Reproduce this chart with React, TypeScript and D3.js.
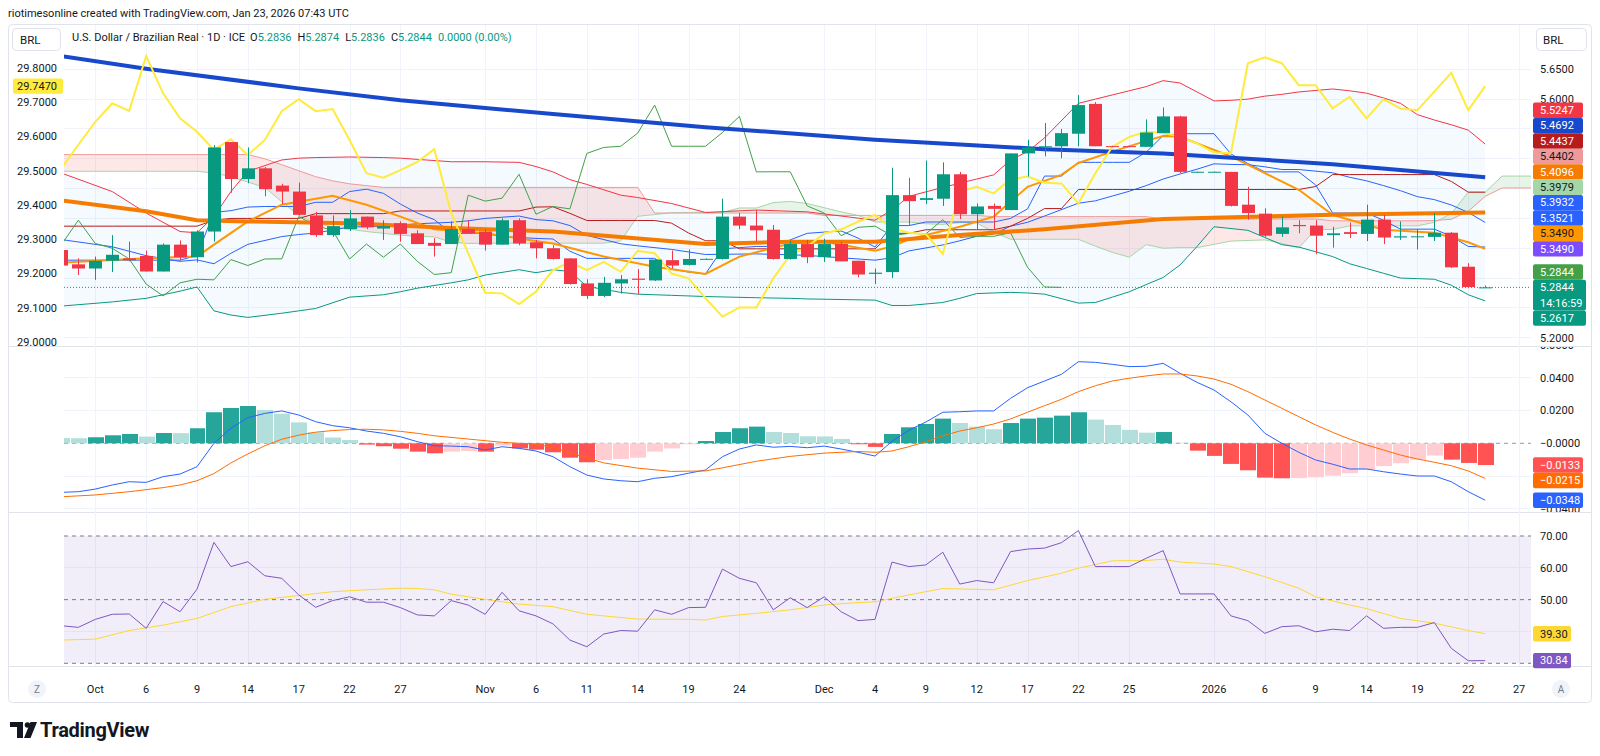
import React from "react";
import * as d3 from "d3";

// trading calendar (weekdays) from Sep 29 2025, incl. 3 future days for the cloud
const TRADING_DAYS = d3.timeDay
  .range(new Date(2025, 8, 29), new Date(2026, 0, 29))
  .filter((d) => d.getDay() !== 0 && d.getDay() !== 6);
const dayKey = d3.timeFormat("%Y-%m-%d");

const TICKS: [string, string][] = [
  ["2025-10-01", "Oct"], ["2025-10-06", "6"], ["2025-10-09", "9"], ["2025-10-14", "14"],
  ["2025-10-17", "17"], ["2025-10-22", "22"], ["2025-10-27", "27"], ["2025-11-03", "Nov"],
  ["2025-11-06", "6"], ["2025-11-11", "11"], ["2025-11-14", "14"], ["2025-11-19", "19"],
  ["2025-11-24", "24"], ["2025-12-01", "Dec"], ["2025-12-04", "4"], ["2025-12-09", "9"],
  ["2025-12-12", "12"], ["2025-12-17", "17"], ["2025-12-22", "22"], ["2025-12-25", "25"],
  ["2026-01-01", "2026"], ["2026-01-06", "6"], ["2026-01-09", "9"], ["2026-01-14", "14"],
  ["2026-01-19", "19"], ["2026-01-22", "22"], ["2026-01-27", "27"],
];

// USD/BRL daily candles
const OPEN = [
  5.347, 5.323, 5.316, 5.329, 5.333, 5.337, 5.311, 5.356, 5.335, 5.378,
  5.528, 5.466, 5.484, 5.455, 5.445, 5.405, 5.372, 5.382, 5.403, 5.383,
  5.392, 5.375, 5.359, 5.357, 5.382, 5.378, 5.356, 5.397, 5.36, 5.35,
  5.333, 5.291, 5.27, 5.291, 5.299, 5.296, 5.33, 5.322, 5.3318, 5.332,
  5.403, 5.388, 5.381, 5.332, 5.357, 5.335, 5.357, 5.329, 5.307, 5.31,
  5.439, 5.431, 5.433, 5.474, 5.407, 5.421, 5.414, 5.509, 5.519, 5.521,
  5.542, 5.592, 5.5212, 5.5212, 5.52, 5.543, 5.571, 5.478, 5.478, 5.478,
  5.423, 5.408, 5.374, 5.389, 5.388, 5.372, 5.377, 5.374, 5.398, 5.368,
  5.369, 5.369, 5.376, 5.319, 5.2836,
];
const HIGH = [
  5.35, 5.333, 5.336, 5.372, 5.361, 5.346, 5.358, 5.363, 5.38, 5.523,
  5.528, 5.519, 5.486, 5.458, 5.46, 5.411, 5.405, 5.414, 5.403, 5.397,
  5.395, 5.38, 5.367, 5.395, 5.397, 5.382, 5.4, 5.4, 5.364, 5.355,
  5.333, 5.298, 5.302, 5.305, 5.315, 5.332, 5.346, 5.348, 5.333, 5.433,
  5.409, 5.414, 5.389, 5.362, 5.364, 5.366, 5.361, 5.329, 5.316, 5.485,
  5.468, 5.497, 5.494, 5.478, 5.425, 5.425, 5.509, 5.532, 5.56, 5.55,
  5.607, 5.595, 5.5218, 5.5218, 5.566, 5.586, 5.572, 5.4786, 5.4786, 5.478,
  5.453, 5.417, 5.403, 5.397, 5.397, 5.386, 5.393, 5.423, 5.406, 5.395,
  5.382, 5.409, 5.377, 5.325, 5.2874,
];
const LOW = [
  5.317, 5.305, 5.297, 5.31, 5.328, 5.311, 5.311, 5.33, 5.326, 5.361,
  5.443, 5.459, 5.437, 5.424, 5.405, 5.369, 5.369, 5.379, 5.382, 5.364,
  5.361, 5.357, 5.336, 5.357, 5.375, 5.346, 5.356, 5.355, 5.333, 5.331,
  5.289, 5.265, 5.268, 5.274, 5.273, 5.295, 5.316, 5.321, 5.3312, 5.331,
  5.382, 5.361, 5.331, 5.331, 5.325, 5.327, 5.328, 5.301, 5.29, 5.3,
  5.389, 5.424, 5.421, 5.399, 5.381, 5.381, 5.414, 5.47, 5.504, 5.501,
  5.521, 5.521, 5.5205, 5.5205, 5.52, 5.543, 5.476, 5.4776, 5.4776, 5.42,
  5.398, 5.369, 5.369, 5.375, 5.34, 5.351, 5.367, 5.362, 5.357, 5.364,
  5.348, 5.362, 5.317, 5.283, 5.2836,
];
const CLOSE = [
  5.321, 5.316, 5.329, 5.339, 5.33, 5.311, 5.356, 5.335, 5.378, 5.519,
  5.466, 5.484, 5.449, 5.445, 5.406, 5.372, 5.387, 5.4, 5.385, 5.387,
  5.374, 5.357, 5.354, 5.382, 5.375, 5.356, 5.397, 5.358, 5.35, 5.332,
  5.29, 5.27, 5.292, 5.298, 5.297, 5.331, 5.321, 5.332, 5.3322, 5.403,
  5.388, 5.38, 5.332, 5.357, 5.335, 5.357, 5.328, 5.306, 5.309, 5.439,
  5.429, 5.434, 5.474, 5.407, 5.42, 5.416, 5.509, 5.519, 5.521, 5.543,
  5.59, 5.521, 5.521, 5.521, 5.544, 5.571, 5.478, 5.4782, 5.4782, 5.421,
  5.409, 5.371, 5.385, 5.387, 5.371, 5.375, 5.374, 5.398, 5.368, 5.37,
  5.37, 5.376, 5.318, 5.285, 5.2844,
];

// moving averages [bar index, value]
const MA_LONG: [number, number][] = [
  [0, 5.672], [5, 5.651], [14, 5.618], [20, 5.598], [29, 5.575], [38, 5.553],
  [48, 5.532], [58, 5.516], [65, 5.509], [75, 5.491], [84, 5.469],
];
const MA_MID: [number, number][] = [
  [0, 5.43], [5, 5.412], [8, 5.397], [11, 5.395], [17, 5.392], [23, 5.384], [29, 5.378],
  [38, 5.357], [43, 5.361], [48, 5.361], [53, 5.372], [56, 5.378], [58, 5.382],
  [65, 5.399], [75, 5.406], [84, 5.41],
];
const MA_FAST: [number, number][] = [
  [0, 5.326], [5, 5.333], [8, 5.336], [9, 5.356], [11, 5.395], [13, 5.423], [16, 5.438],
  [18, 5.423], [20, 5.403], [22, 5.382], [25, 5.375], [28, 5.362], [29, 5.358], [32, 5.336],
  [35, 5.319], [38, 5.307], [40, 5.336], [43, 5.358], [45, 5.361], [48, 5.346], [49, 5.353],
  [50, 5.365], [53, 5.386], [55, 5.403], [57, 5.453], [59, 5.473], [60, 5.493], [62, 5.512],
  [64, 5.53], [65, 5.538], [66, 5.537], [69, 5.504], [73, 5.448], [75, 5.406], [78, 5.381],
  [81, 5.376], [83, 5.36], [84, 5.349],
];

// Bollinger bands [bar index, upper, lower]
const BB_ROWS: [number, number, number][] = [
  [0, 5.476, 5.253], [3, 5.445, 5.26], [5, 5.409, 5.266], [7, 5.378, 5.278], [8, 5.376, 5.285],
  [9, 5.403, 5.245], [10, 5.445, 5.238], [11, 5.479, 5.234], [13, 5.498, 5.241], [14, 5.501, 5.245],
  [15, 5.502, 5.249], [17, 5.503, 5.268], [19, 5.502, 5.272], [20, 5.501, 5.277], [21, 5.499, 5.283],
  [23, 5.495, 5.292], [24, 5.495, 5.297], [25, 5.495, 5.305], [27, 5.494, 5.314], [28, 5.487, 5.309],
  [29, 5.478, 5.314], [30, 5.465, 5.311], [31, 5.457, 5.286], [33, 5.439, 5.276], [34, 5.435, 5.273],
  [36, 5.425, 5.271], [38, 5.41, 5.269], [41, 5.414, 5.267], [43, 5.412, 5.266], [44, 5.411, 5.265],
  [48, 5.397, 5.263], [49, 5.414, 5.254], [50, 5.437, 5.254], [52, 5.452, 5.259], [53, 5.459, 5.266],
  [54, 5.466, 5.274], [55, 5.473, 5.275], [56, 5.498, 5.276], [57, 5.512, 5.275], [58, 5.535, 5.273],
  [60, 5.593, 5.258], [61, 5.6, 5.259], [62, 5.607, 5.268], [63, 5.614, 5.277], [64, 5.621, 5.289],
  [65, 5.631, 5.301], [66, 5.627, 5.322], [67, 5.612, 5.353], [68, 5.597, 5.386], [69, 5.598, 5.383],
  [70, 5.6, 5.38], [71, 5.605, 5.368], [72, 5.608, 5.356], [73, 5.612, 5.352], [75, 5.617, 5.336],
  [76, 5.614, 5.324], [77, 5.61, 5.316], [78, 5.602, 5.308], [79, 5.593, 5.3], [80, 5.574, 5.299],
  [81, 5.565, 5.298], [82, 5.557, 5.288], [83, 5.548, 5.272], [84, 5.5247, 5.2617],
];

// Ichimoku
const TENKAN = [
  5.33, 5.33, 5.33, 5.33, 5.33, 5.33, 5.33, 5.33, 5.338, 5.41,
  5.413, 5.419, 5.42, 5.42, 5.42, 5.427, 5.427, 5.445, 5.449, 5.442,
  5.424, 5.409, 5.398, 5.375, 5.375, 5.375, 5.3695, 5.368, 5.3665, 5.3655,
  5.345, 5.333, 5.333, 5.333, 5.333, 5.333, 5.315, 5.31, 5.307, 5.349,
  5.351, 5.353, 5.353, 5.364, 5.375, 5.377, 5.379, 5.367, 5.352, 5.388,
  5.388, 5.394, 5.394, 5.394, 5.394, 5.394, 5.4, 5.416, 5.471, 5.471,
  5.494, 5.494, 5.494, 5.494, 5.511, 5.539, 5.542, 5.542, 5.542, 5.508,
  5.492, 5.478, 5.478, 5.478, 5.456, 5.409, 5.409, 5.409, 5.397, 5.382,
  5.382, 5.382, 5.37, 5.353, 5.352,
];
const KIJUN = [
  5.387, 5.387, 5.387, 5.387, 5.387, 5.387, 5.387, 5.387, 5.387, 5.397,
  5.4, 5.4, 5.4, 5.4, 5.4, 5.408, 5.408, 5.408, 5.408, 5.408,
  5.4125, 5.4125, 5.4125, 5.4125, 5.4125, 5.4125, 5.4125, 5.4125, 5.419, 5.4195,
  5.4085, 5.3965, 5.3965, 5.3965, 5.3965, 5.3965, 5.392, 5.3755, 5.3625, 5.3625,
  5.349, 5.349, 5.349, 5.349, 5.349, 5.349, 5.349, 5.349, 5.349, 5.375,
  5.375, 5.381, 5.381, 5.381, 5.381, 5.381, 5.387, 5.4, 5.4165, 5.4165,
  5.4485, 5.4485, 5.4485, 5.4485, 5.4485, 5.4485, 5.4485, 5.4485, 5.4485, 5.4485,
  5.4485, 5.4485, 5.4485, 5.4485, 5.4535, 5.4735, 5.4735, 5.4735, 5.4735, 5.4735,
  5.4735, 5.4735, 5.462, 5.444, 5.444,
];
const SPAN_A = [
  5.479, 5.479, 5.479, 5.479, 5.479, 5.479, 5.479, 5.479, 5.479, 5.476,
  5.47, 5.461, 5.452, 5.428, 5.405, 5.392, 5.386, 5.382, 5.378, 5.375,
  5.372, 5.37, 5.369, 5.36, 5.358, 5.3585, 5.3585, 5.3585, 5.3585, 5.3585,
  5.3585, 5.3585, 5.3585, 5.3625, 5.4035, 5.4065, 5.4095, 5.41, 5.41, 5.41,
  5.4175, 5.4175, 5.4265, 5.4285, 5.425, 5.418, 5.411, 5.405, 5.394, 5.394,
  5.394, 5.391, 5.39, 5.393, 5.3925, 5.377, 5.365, 5.365, 5.365, 5.365,
  5.365, 5.3535, 5.343, 5.335, 5.356, 5.35, 5.351, 5.351, 5.3565, 5.362,
  5.363, 5.364, 5.358, 5.3505, 5.3815, 5.3815, 5.3875, 5.3875, 5.3875, 5.3875,
  5.3875, 5.3935, 5.408, 5.444, 5.444, 5.471, 5.471, 5.471,
];
const SPAN_B = [
  5.507, 5.507, 5.507, 5.507, 5.507, 5.507, 5.507, 5.507, 5.507, 5.507,
  5.507, 5.507, 5.5, 5.49, 5.48, 5.47, 5.463, 5.458, 5.455, 5.452,
  5.452, 5.452, 5.452, 5.452, 5.452, 5.452, 5.452, 5.452, 5.452, 5.452,
  5.452, 5.452, 5.452, 5.452, 5.452, 5.409, 5.409, 5.409, 5.409, 5.409,
  5.409, 5.409, 5.409, 5.409, 5.409, 5.405, 5.405, 5.405, 5.405, 5.405,
  5.405, 5.405, 5.405, 5.405, 5.405, 5.403, 5.403, 5.403, 5.403, 5.403,
  5.403, 5.403, 5.403, 5.403, 5.403, 5.399, 5.399, 5.399, 5.399, 5.399,
  5.399, 5.399, 5.399, 5.399, 5.399, 5.396, 5.396, 5.396, 5.396, 5.396,
  5.396, 5.3965, 5.3985, 5.412, 5.437, 5.451, 5.451, 5.451,
];
const LAG_SHIFT = 25;

// overlay on the left scale
const LEFT_SCALE_LINE = [
  29.507, 29.576, 29.643, 29.697, 29.675, 29.835, 29.726, 29.653, 29.614, 29.561,
  29.592, 29.546, 29.59, 29.674, 29.709, 29.674, 29.68, 29.59, 29.493, 29.48,
  29.502, 29.526, 29.563, 29.376, 29.259, 29.144, 29.142, 29.111, 29.147, 29.21,
  29.234, 29.21, 29.234, 29.205, 29.266, 29.259, 29.2, 29.186, 29.128, 29.074,
  29.101, 29.101, 29.186, 29.254, 29.278, 29.317, 29.329, 29.351, 29.371, 29.332,
  29.319, 29.315, 29.257, 29.439, 29.453, 29.434, 29.475, 29.483, 29.465, 29.463,
  29.405, 29.493, 29.57, 29.599, 29.614, 29.611, 29.599, 29.58, 29.553, 29.551,
  29.814, 29.831, 29.814, 29.75, 29.75, 29.682, 29.716, 29.653, 29.709, 29.682,
  29.677, 29.731, 29.786, 29.677, 29.747,
];

// MACD
const MACD_LINE = [
  -0.03, -0.0296, -0.028, -0.0255, -0.0235, -0.0239, -0.0204, -0.0188, -0.0143, 0.0,
  0.0092, 0.0157, 0.0183, 0.0198, 0.0173, 0.0132, 0.0108, 0.0095, 0.0075, 0.0061,
  0.004, 0.001, -0.0015, -0.0017, -0.0021, -0.0041, -0.0021, -0.0031, -0.0047, -0.0082,
  -0.0143, -0.0194, -0.0218, -0.0229, -0.0235, -0.0214, -0.0204, -0.0183, -0.0163, -0.0082,
  -0.0035, -0.001, -0.0024, -0.0019, -0.0027, -0.0017, -0.0035, -0.0055, -0.0078, 0.0012,
  0.008, 0.013, 0.019, 0.0193, 0.0198, 0.0198, 0.0275, 0.034, 0.0381, 0.0422,
  0.0499, 0.0495, 0.0483, 0.0469, 0.0471, 0.0489, 0.0428, 0.0373, 0.0326, 0.0254,
  0.0173, 0.0061, 0.0, -0.0055, -0.0102, -0.0128, -0.0157, -0.0157, -0.0174, -0.0188,
  -0.02, -0.02, -0.0235, -0.0296, -0.0348,
];
const MACD_SIGNAL: [number, number][] = [
  [0, -0.0327], [2, -0.0316], [4, -0.0296], [6, -0.0271], [7, -0.0255], [8, -0.0229], [9, -0.0185],
  [10, -0.012], [11, -0.0065], [12, -0.0015], [13, 0.0025], [14, 0.005], [15, 0.0068], [16, 0.0078],
  [17, 0.0084], [18, 0.0086], [19, 0.0082], [20, 0.0073], [21, 0.0061], [22, 0.0046], [24, 0.0026],
  [26, 0.0006], [28, -0.0006], [29, -0.0025], [30, -0.0058], [31, -0.009], [32, -0.012], [34, -0.0152],
  [36, -0.0172], [38, -0.0169], [39, -0.015], [41, -0.011], [43, -0.008], [45, -0.006], [47, -0.005],
  [48, -0.0055], [49, -0.0047], [50, -0.0021], [51, 0.001], [52, 0.0046], [53, 0.0075], [54, 0.0095],
  [55, 0.0118], [56, 0.0149], [57, 0.019], [58, 0.023], [59, 0.0269], [60, 0.0316], [61, 0.0352],
  [62, 0.0381], [63, 0.0398], [64, 0.0412], [65, 0.0424], [66, 0.0424], [67, 0.0412], [68, 0.0393],
  [69, 0.0361], [70, 0.0316], [71, 0.0265], [72, 0.0214], [73, 0.0163], [74, 0.0112], [75, 0.0067],
  [76, 0.0026], [77, -0.001], [78, -0.0041], [79, -0.0072], [80, -0.0096], [81, -0.0116],
  [82, -0.0137], [83, -0.0169], [84, -0.0215],
];
const MACD_HIST = [
  0.0032, 0.0031, 0.0037, 0.0049, 0.0057, 0.0041, 0.0063, 0.0062, 0.0092, 0.019,
  0.0216, 0.0228, 0.0204, 0.0181, 0.0128, 0.0067, 0.0035, 0.002, -0.0008, -0.0018,
  -0.0033, -0.0051, -0.0061, -0.0051, -0.0047, -0.0051, -0.0014, -0.0031, -0.0039, -0.0055,
  -0.0088, -0.0116, -0.0102, -0.0096, -0.0088, -0.0051, -0.0031, -0.0006, 0.0014, 0.0069,
  0.0092, 0.0102, 0.0069, 0.0063, 0.0043, 0.0042, 0.0027, -0.0006, -0.0022, 0.0057,
  0.0098, 0.0118, 0.0151, 0.0124, 0.0102, 0.0086, 0.0124, 0.0151, 0.0157, 0.0169,
  0.019, 0.0145, 0.0112, 0.0082, 0.0065, 0.0069, 0.0003, -0.0045, -0.0077, -0.0126,
  -0.0165, -0.021, -0.0214, -0.0213, -0.0208, -0.0198, -0.0183, -0.016, -0.014, -0.0122,
  -0.01, -0.0075, -0.01, -0.012, -0.0133,
];

// RSI
const RSI = [
  41.8, 41.3, 43.8, 45.4, 45.5, 41.0, 49.4, 46.2, 53.3, 68.0,
  60.4, 61.9, 57.5, 56.7, 51.5, 47.6, 49.7, 50.9, 49.2, 49.2,
  47.5, 45.2, 44.9, 49.7, 48.3, 45.4, 52.3, 46.5, 44.9, 42.4,
  37.3, 35.2, 39.2, 40.3, 40.1, 46.8, 45.4, 47.5, 47.6, 59.6,
  56.7, 55.3, 46.8, 50.6, 47.5, 50.9, 46.2, 43.4, 43.8, 61.8,
  60.4, 60.9, 64.9, 54.9, 56.0, 55.3, 65.1, 65.9, 66.2, 67.9,
  71.7, 60.4, 60.4, 60.4, 63.0, 65.4, 51.8, 51.8, 51.8, 44.9,
  43.4, 39.4, 41.5, 41.8, 39.9, 40.7, 40.3, 44.9, 41.0, 41.3,
  41.3, 42.8, 34.7, 30.8, 30.84,
];
const RSI_MA: [number, number][] = [
  [0, 37.3], [2, 37.6], [4, 40.3], [6, 42.0], [8, 44.1], [10, 47.8], [12, 50.1], [14, 51.3],
  [16, 52.5], [18, 53.1], [20, 53.6], [21, 53.5], [22, 53.1], [23, 51.7], [25, 50.1], [27, 48.6],
  [29, 47.8], [31, 45.4], [34, 43.9], [37, 43.8], [38, 43.6], [39, 44.7], [41, 45.7], [43, 46.8],
  [45, 48.3], [47, 49.1], [48, 49.3], [50, 51.5], [52, 53.5], [55, 53.1], [57, 56.0], [59, 58.3],
  [60, 59.9], [62, 62.2], [64, 62.3], [65, 62.7], [66, 61.8], [68, 61.2], [69, 60.4], [71, 57.2],
  [73, 53.6], [74, 50.9], [76, 48.3], [77, 47.2], [79, 44.1], [81, 42.6], [83, 40.3], [84, 39.3],
];

// last-value labels on the scales
const MAIN_LAST_ABOVE = [5.5247, 5.4692, 5.4437, 5.4402, 5.4096, 5.3979, 5.3932, 5.3521, 5.349, 5.349, 5.2844];
const MAIN_LAST_BELOW = [5.2617];
const MACD_LAST = [-0.0133, -0.0215, -0.0348];
const RSI_LAST = [39.3, 30.84];
const LEFT_LAST = 29.747;
const COUNTDOWN = "14:16:59";

const FONT = "Roboto, 'Liberation Sans', Arial, sans-serif";
const TXT = "#131722";
const GRID = "#f0f3fa";
const BORDER = "#e0e3eb";
const UP = "#089981";
const DOWN = "#f23645";

type P = [number, number];

export default function App() {
  const nDays = TRADING_DAYS.length;
  const x = d3.scaleLinear().domain([0, nDays - 1]).range([61.4, 61.4 + 16.95 * (nDays - 1)]);
  const step = x(1) - x(0);
  const L = 64, R = 1531;
  const main = { t: 25, b: 346 };
  const macd = { t: 347, b: 512 };
  const rsi = { t: 513, b: 666 };

  const yP = d3.scaleLinear().domain([5.2, 5.65]).range([337.7, 69.3]);
  const yL = d3.scaleLinear().domain([29.0, 29.8]).range([342, 68]);
  const yM = d3.scaleLinear().domain([-0.04, 0.04]).range([508.7, 377.9]);
  const yR = d3.scaleLinear().domain([30, 70]).range([663.3, 536]);

  const seq = (a: number[], start = 0): P[] => a.map((v, i) => [i + start, v] as P);
  const path = (pts: P[], y: any) =>
    d3.line<P>().x((d) => x(d[0])).y((d) => y(d[1]))(pts) || "";

  const keys = TRADING_DAYS.map(dayKey);
  const ticks = TICKS.map(([k, label]) => ({ xx: x(keys.indexOf(k)), label }));

  // cloud with crossing points inserted
  const cloudPts: { i: number; a: number; b: number }[] = [];
  for (let i = 0; i < SPAN_A.length; i++) {
    cloudPts.push({ i, a: SPAN_A[i], b: SPAN_B[i] });
    if (i < SPAN_A.length - 1) {
      const d0 = SPAN_A[i] - SPAN_B[i];
      const d1 = SPAN_A[i + 1] - SPAN_B[i + 1];
      if (d0 * d1 < 0) {
        const t = d0 / (d0 - d1);
        const v = SPAN_A[i] + (SPAN_A[i + 1] - SPAN_A[i]) * t;
        cloudPts.push({ i: i + t, a: v, b: v });
      }
    }
  }
  const cloudGreen = d3.area<any>().x((p) => x(p.i)).y0((p) => yP(p.b)).y1((p) => yP(Math.max(p.a, p.b)))(cloudPts) || "";
  const cloudRed = d3.area<any>().x((p) => x(p.i)).y0((p) => yP(p.a)).y1((p) => yP(Math.max(p.a, p.b)))(cloudPts) || "";

  const bbArea = d3.area<[number, number, number]>().x((d) => x(d[0])).y0((d) => yP(d[2])).y1((d) => yP(d[1]))(BB_ROWS) || "";
  const bbUpper: P[] = BB_ROWS.map((d) => [d[0], d[1]]);
  const bbLower: P[] = BB_ROWS.map((d) => [d[0], d[2]]);
  const bbBasis: P[] = BB_ROWS.map((d) => [d[0], (d[1] + d[2]) / 2]);
  const lagging: P[] = CLOSE.slice(LAG_SHIFT).map((c, k) => [k, c]);

  const last = CLOSE[CLOSE.length - 1];
  const fmt4 = d3.format(".4f");
  const fmt2 = d3.format(".2f");

  // badge stacking around the last-price label
  const ROW = 15.4;
  const mainColors = [
    [DOWN, "#fff"], ["#1848cc", "#fff"], ["#b71c1c", "#fff"], ["#ef9a9a", TXT], ["#f57c00", "#fff"],
    ["#a5d6a7", TXT], ["#2962ff", "#fff"], ["#2962ff", "#fff"], ["#ff9800", TXT], ["#7c4dff", "#fff"],
    ["#43a047", "#fff"],
  ];
  const anchorTop = yP(last) - ROW / 2;
  const aboveY: number[] = new Array(MAIN_LAST_ABOVE.length);
  let cur = anchorTop;
  for (let k = MAIN_LAST_ABOVE.length - 1; k >= 0; k--) {
    const c = Math.min(yP(MAIN_LAST_ABOVE[k]), cur - ROW / 2);
    aboveY[k] = c;
    cur = c - ROW / 2;
  }
  cur = anchorTop + 2 * ROW;
  const belowY = MAIN_LAST_BELOW.map((v) => {
    const c = Math.max(yP(v), cur + ROW / 2);
    cur = c + ROW / 2;
    return c;
  });
  cur = -Infinity;
  const macdY = MACD_LAST.map((v) => {
    const c = Math.max(yM(v), cur + ROW / 2);
    cur = c + ROW / 2;
    return c;
  });
  const macdColors = [["#ff5252", "#fff"], ["#ff6d00", "#fff"], ["#2962ff", "#fff"]];
  const rsiColors = [["#fdd835", TXT], ["#7e57c2", "#fff"]];
  const rsiY = RSI_LAST.map((v) => yR(v));

  // axis labels hidden where a value label sits on them
  const mainBadgeYs = [...aboveY, yP(last), yP(last) + ROW, ...belowY];
  const free = (y: number, ys: number[], gap = 8) => ys.every((b) => Math.abs(b - y) >= gap);

  const badge = (key: string, y: number, text: string, bg: string, fg: string, w = 50) => (
    <g key={key}>
      <rect x={1533} y={y - ROW / 2} width={w} height={ROW} rx={2} fill={bg} />
      <text x={1540} y={y} dy="0.35em" fill={fg} fontSize={11} fontFamily={FONT}>{text}</text>
    </g>
  );

  const minus = (v: number) => (v < 0 ? "\u2212" + fmt4(Math.abs(v)) : fmt4(v));

  const histColor = (i: number) => {
    const v = MACD_HIST[i];
    const prev = i > 0 ? MACD_HIST[i - 1] : v + (v >= 0 ? 0.0001 : -0.0001);
    if (v >= 0) return v >= prev ? "#26a69a" : "#b2dfdb";
    return v <= prev ? "#ff5252" : "#ffcdd2";
  };

  const mainTicks = d3.range(10).map((k) => 5.2 + k * 0.05);
  const macdTicks = [0.06, 0.04, 0.02, 0, -0.04];
  const rsiTicks = [70, 60, 50, 40, 30];

  return (
    <svg width={1600} height={756} style={{ display: "block", position: "absolute", left: 0, top: 0, background: "#fff" }}>
      <defs>
        <clipPath id="cMain"><rect x={L} y={main.t} width={R - L} height={main.b - main.t} /></clipPath>
        <clipPath id="cMacd"><rect x={L} y={macd.t} width={R - L} height={macd.b - macd.t} /></clipPath>
        <clipPath id="cRsi"><rect x={L} y={rsi.t} width={R - L} height={rsi.b - rsi.t} /></clipPath>
        <clipPath id="cMainAxis"><rect x={0} y={main.t} width={1600} height={main.b - main.t} /></clipPath>
        <clipPath id="cMacdAxis"><rect x={0} y={macd.t} width={1600} height={macd.b - macd.t} /></clipPath>
      </defs>
      <rect width={1600} height={756} fill="#fff" />

      <text x={8} y={13} dy="0.35em" fontSize={11} fill={TXT} fontFamily={FONT}>
        riotimesonline created with TradingView.com, Jan 23, 2026 07:43 UTC
      </text>

      {/* frame and separators */}
      <rect x={8.5} y={24.5} width={1583} height={678} rx={4} fill="none" stroke={BORDER} />
      <line x1={9} x2={1591} y1={346.5} y2={346.5} stroke={BORDER} />
      <line x1={9} x2={1591} y1={512.5} y2={512.5} stroke={BORDER} />
      <line x1={9} x2={1591} y1={666.5} y2={666.5} stroke={BORDER} />

      {/* grid */}
      <g stroke={GRID} shapeRendering="crispEdges">
        {ticks.map((t, k) => (
          <line key={"vg" + k} x1={Math.round(t.xx) + 0.5} x2={Math.round(t.xx) + 0.5} y1={main.t} y2={rsi.b} />
        ))}
        {mainTicks.map((v, k) => (
          <line key={"hg" + k} x1={L} x2={R} y1={yP(v)} y2={yP(v)} />
        ))}
        {[-0.04, -0.02, 0.02, 0.04].map((v) => (
          <line key={"mg" + v} x1={L} x2={R} y1={yM(v)} y2={yM(v)} />
        ))}
        {[40, 60].map((v) => (
          <line key={"rg" + v} x1={L} x2={R} y1={yR(v)} y2={yR(v)} />
        ))}
      </g>

      {/* ===== main pane ===== */}
      <g clipPath="url(#cMain)">
        <path d={bbArea} fill="rgba(33,150,243,0.05)" />
        <path d={cloudGreen} fill="rgba(67,160,71,0.12)" />
        <path d={cloudRed} fill="rgba(244,67,54,0.12)" />
        <g fill="none" strokeWidth={1}>
          <path d={path(seq(SPAN_A), yP)} stroke="#a5d6a7" />
          <path d={path(seq(SPAN_B), yP)} stroke="#ef9a9a" />
          <path d={path(bbUpper, yP)} stroke={DOWN} />
          <path d={path(bbLower, yP)} stroke={UP} />
          <path d={path(bbBasis, yP)} stroke="#2962ff" />
          <path d={path(seq(KIJUN), yP)} stroke="#b71c1c" />
          <path d={path(seq(TENKAN), yP)} stroke="#2962ff" />
          <path d={path(lagging, yP)} stroke="#43a047" />
          <path d={path(MA_FAST, yP)} stroke="#ff9800" strokeWidth={2} />
          <path d={path(MA_MID, yP)} stroke="#f57c00" strokeWidth={4} />
          <path d={path(MA_LONG, yP)} stroke="#1848cc" strokeWidth={4} />
          <path d={path(seq(LEFT_SCALE_LINE), yL)} stroke="#ffeb3b" strokeWidth={2} />
        </g>
        <line x1={L} x2={R} y1={yP(last)} y2={yP(last)} stroke={UP} strokeDasharray="1 2" />
        {CLOSE.map((c, i) => {
          const o = OPEN[i];
          const col = c >= o ? UP : DOWN;
          const xc = Math.round(x(i));
          const top = yP(Math.max(o, c));
          const h = Math.max(1, Math.abs(yP(o) - yP(c)));
          return (
            <g key={"c" + i}>
              <line x1={xc + 0.5} x2={xc + 0.5} y1={yP(HIGH[i])} y2={yP(LOW[i])} stroke={col} />
              <rect x={xc - 6} y={top} width={13} height={h} fill={col} />
            </g>
          );
        })}
      </g>

      {/* main pane scales */}
      <g clipPath="url(#cMainAxis)" fontSize={11} fontFamily={FONT} fill={TXT}>
        {mainTicks.filter((v) => free(yP(v), mainBadgeYs, 10)).map((v, k) => (
          <text key={"rl" + k} x={1540} y={yP(v)} dy="0.35em">{fmt4(v)}</text>
        ))}
        {d3.range(9).map((k) => 29 + k * 0.1).filter((v) => free(yL(v), [yL(LEFT_LAST)], 12)).map((v, k) => (
          <text key={"ll" + k} x={57} y={yL(v)} dy="0.35em" textAnchor="end">{fmt4(v)}</text>
        ))}
      </g>
      <g>
        <rect x={13} y={yL(LEFT_LAST) - ROW / 2} width={50} height={ROW} rx={2} fill="#ffeb3b" />
        <text x={57} y={yL(LEFT_LAST)} dy="0.35em" textAnchor="end" fontSize={11} fill={TXT} fontFamily={FONT}>{fmt4(LEFT_LAST)}</text>
      </g>
      {MAIN_LAST_ABOVE.map((v, k) => badge("ma" + k, aboveY[k], fmt4(v), mainColors[k][0], mainColors[k][1]))}
      <g>
        <rect x={1533} y={anchorTop} width={53} height={2 * ROW} rx={2} fill={UP} />
        <text x={1540} y={yP(last)} dy="0.35em" fill="#fff" fontSize={11} fontFamily={FONT}>{fmt4(last)}</text>
        <text x={1540} y={yP(last) + ROW} dy="0.35em" fill="#fff" fontSize={11} fontFamily={FONT}>{COUNTDOWN}</text>
      </g>
      {MAIN_LAST_BELOW.map((v, k) => badge("mb" + k, belowY[k], fmt4(v), UP, "#fff", 53))}

      {/* legend */}
      <rect x={12.5} y={28.5} width={48} height={22} rx={4} fill="#fff" stroke={BORDER} />
      <text x={20} y={40} dy="0.35em" fontSize={11.5} fill={TXT} fontFamily={FONT}>BRL</text>
      <rect x={1536.5} y={28.5} width={50} height={22} rx={4} fill="#fff" stroke={BORDER} />
      <text x={1543} y={40} dy="0.35em" fontSize={11.5} fill={TXT} fontFamily={FONT}>BRL</text>
      <text x={72} y={37} dy="0.35em" fontSize={11} fill={TXT} fontFamily={FONT}>
        <tspan>U.S. Dollar / Brazilian Real · 1D · ICE</tspan>
        <tspan dx={5}>O</tspan><tspan fill={UP}>{fmt4(OPEN[OPEN.length - 1])}</tspan>
        <tspan dx={6}>H</tspan><tspan fill={UP}>{fmt4(HIGH[HIGH.length - 1])}</tspan>
        <tspan dx={6}>L</tspan><tspan fill={UP}>{fmt4(LOW[LOW.length - 1])}</tspan>
        <tspan dx={6}>C</tspan><tspan fill={UP}>{fmt4(last)}</tspan>
        <tspan dx={6} fill={UP}>{fmt4(last - CLOSE[CLOSE.length - 1])} (0.00%)</tspan>
      </text>

      {/* ===== MACD pane ===== */}
      <g clipPath="url(#cMacd)">
        <line x1={L} x2={R} y1={yM(0)} y2={yM(0)} stroke="#9598a1" strokeDasharray="4 4" />
        {MACD_HIST.map((v, i) => {
          const x0 = Math.round(x(i) - step / 2) + 1;
          const x1 = Math.round(x(i) + step / 2);
          return (
            <rect key={"h" + i} x={x0} width={x1 - x0} y={Math.min(yM(v), yM(0))} height={Math.abs(yM(v) - yM(0))} fill={histColor(i)} />
          );
        })}
        <path d={path(seq(MACD_LINE), yM)} fill="none" stroke="#2962ff" strokeWidth={1} />
        <path d={path(MACD_SIGNAL, yM)} fill="none" stroke="#ff6d00" strokeWidth={1} />
      </g>
      <g clipPath="url(#cMacdAxis)" fontSize={11} fontFamily={FONT} fill={TXT}>
        {macdTicks.filter((v) => free(yM(v), macdY, 8)).map((v) => (
          <text key={"ml" + v} x={1540} y={yM(v)} dy="0.35em">{v === 0 ? "\u22120.0000" : minus(v)}</text>
        ))}
        {MACD_LAST.map((v, k) => badge("mc" + k, macdY[k], minus(v), macdColors[k][0], macdColors[k][1]))}
      </g>

      {/* ===== RSI pane ===== */}
      <g clipPath="url(#cRsi)">
        <rect x={L} y={yR(70)} width={R - L} height={yR(30) - yR(70)} fill="rgba(126,87,194,0.1)" />
        {[70, 50, 30].map((v) => (
          <line key={"rb" + v} x1={L} x2={R} y1={yR(v)} y2={yR(v)} stroke="#787b86" strokeDasharray="4 4" />
        ))}
        <path d={path(RSI_MA, yR)} fill="none" stroke="#fdd835" strokeWidth={1} />
        <path d={path(seq(RSI), yR)} fill="none" stroke="#7e57c2" strokeWidth={1} />
      </g>
      <g fontSize={11} fontFamily={FONT} fill={TXT}>
        {rsiTicks.filter((v) => free(yR(v), rsiY, 10)).map((v) => (
          <text key={"rsl" + v} x={1540} y={yR(v)} dy="0.35em">{fmt2(v)}</text>
        ))}
      </g>
      {RSI_LAST.map((v, k) => badge("rs" + k, rsiY[k], fmt2(v), rsiColors[k][0], rsiColors[k][1], 38))}

      {/* ===== time axis ===== */}
      <g fontSize={11} fontFamily={FONT} fill={TXT} textAnchor="middle">
        {ticks.map((t, k) => (
          <text key={"tl" + k} x={t.xx} y={689} dy="0.35em">{t.label}</text>
        ))}
      </g>
      <circle cx={37} cy={689} r={9} fill="#f0f3fa" />
      <text x={37} y={689} dy="0.35em" textAnchor="middle" fontSize={10} fill="#787b86" fontFamily={FONT}>Z</text>
      <circle cx={1561} cy={689} r={9} fill="#f0f3fa" />
      <text x={1561} y={689} dy="0.35em" textAnchor="middle" fontSize={10} fill="#787b86" fontFamily={FONT}>A</text>

      {/* TradingView logo */}
      <g fill={TXT}>
        <path d="M10 722 H23 V738 H17 V727 H10 Z" />
        <circle cx={27.5} cy={725} r={2.8} />
        <path d="M24 738 L30.5 722 H37 L30.5 738 Z" />
        <text x={40} y={730} dy="0.35em" fontSize={20} fontWeight={700} fontFamily={FONT} letterSpacing={-0.3}>TradingView</text>
      </g>
    </svg>
  );
}
